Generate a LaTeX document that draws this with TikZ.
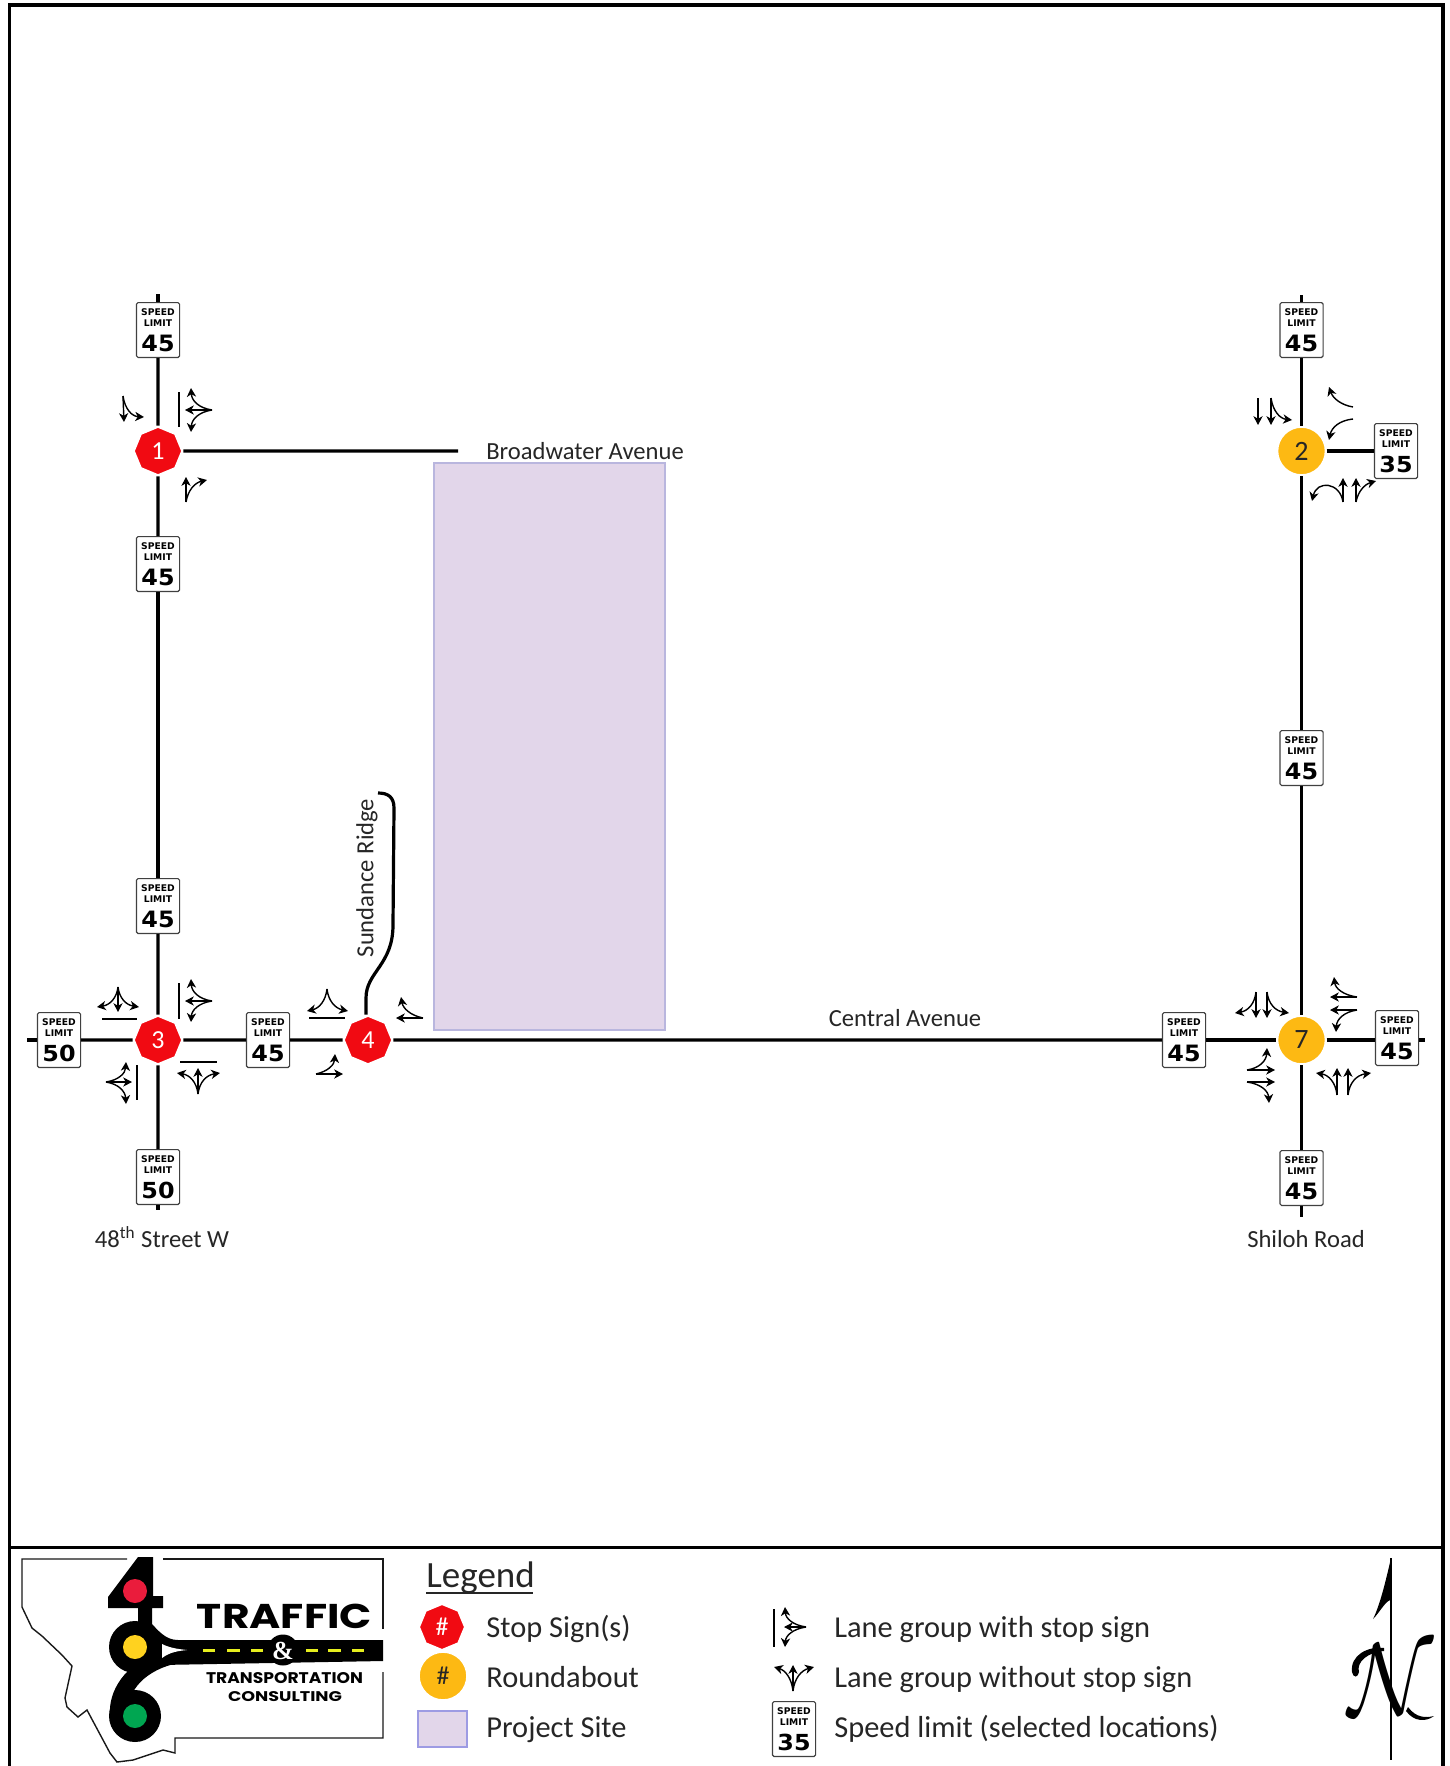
\documentclass[tikz,border=0pt]{standalone}
\usepackage{fontspec}
\setmainfont{Carlito}
\newfontfamily\signfont{DejaVu Sans}
\newfontfamily\logofont{Poppins}
\newfontfamily\ampfont{Liberation Serif}
\usetikzlibrary{arrows.meta,shapes.geometric,calc}
\definecolor{stopred}{HTML}{F10A12}
\definecolor{roundy}{HTML}{FDB913}
\definecolor{sitefill}{HTML}{E2D6EA}
\definecolor{siteline}{HTML}{B9B6DE}
\definecolor{logored}{HTML}{EA1C3C}
\definecolor{logoyellow}{HTML}{FFD21F}
\definecolor{logogreen}{HTML}{00A651}
\definecolor{logodash}{HTML}{E6EE1E}
\tikzset{
  frameline/.style={line width=1.8pt,black},
  road/.style={line width=1.6pt,black},
  lane/.style={line width=.7pt,black,-{Stealth[length=4.4pt,width=4.6pt,inset=1.3pt]}},
  stopbar/.style={line width=.9pt,black},
  stopnode/.style={regular polygon,regular polygon sides=8,shape border rotate=22.5,fill=stopred,draw=white,line width=1pt,minimum size=24.2pt,inner sep=0pt,text=white,font=\fontsize{13}{13}\selectfont},
  roundnode/.style={circle,fill=roundy,draw=white,line width=1pt,minimum size=24.2pt,inner sep=0pt,text=black!85,font=\fontsize{14}{14}\selectfont},
  speedsign/.style={rectangle,rounded corners=.8pt,draw=black!75,line width=.6pt,fill=white,inner sep=0pt,font=\signfont\bfseries\fontsize{4.6}{5}\selectfont},
  roadlabel/.style={font=\fontsize{12.3}{13}\selectfont,text=black!85,inner sep=0pt},
  legendtext/.style={anchor=base west,font=\fontsize{15.2}{16}\selectfont,text=black!85,inner sep=0pt},
  logotext/.style={inner sep=0pt,text=black},
}
\newcommand{\lanec}[3]{\draw[lane] (#1) .. controls ($(#1)!.667!(#2)$) and ($(#3)!.667!(#2)$) .. (#3);}
\newcommand{\lanes}[2]{\draw[lane] (#1) -- (#2);}
\newcommand{\signline}[2]{\hbox to 21.6pt{\hss\rule{0pt}{#1}#2\hss}}
\newcommand{\spd}[3]{\node[speedsign] (#1) at (#2) {\vbox to 27.4pt{\offinterlineskip\signline{6.5pt}{SPEED}\signline{5.5pt}{LIMIT}\signline{12.6pt}{\resizebox{16.6pt}{8.2pt}{#3}}\vss}};}
\begin{document}
\begin{tikzpicture}[x=.5pt,y=-.5pt]
\useasboundingbox (0,0) rectangle (1450,1766);
\fill[white] (0,0) rectangle (1450,1766);
% frame
\draw[frameline] (9.5,1766) -- (9.5,5) -- (1443,5) -- (1443,1766);
\draw[frameline] (9.5,1547.5) -- (1443,1547.5);
% site
\node[draw=siteline,fill=sitefill,line width=.6pt,minimum width=115.5pt,minimum height=283.5pt,inner sep=0pt] (site) at (549.5,746.5) {};
% intersections
\node[stopnode] (n1) at (158,451) {1};
\node[stopnode] (n3) at (158,1040) {3};
\node[stopnode] (n4) at (368,1040) {4};
\node[roundnode] (n2) at (1301.5,451) {2};
\node[roundnode] (n7) at (1301.5,1040) {7};
% speed signs
\spd{sa}{158,330}{45}
\spd{sb}{158,564}{45}
\spd{sc}{158,906}{45}
\spd{sd}{59,1040}{50}
\spd{se}{268,1040}{45}
\spd{sf}{158,1177}{50}
\spd{sg}{1301.5,330}{45}
\spd{sh}{1396,451}{35}
\spd{si}{1301.5,758}{45}
\spd{sj}{1184,1040}{45}
\spd{sk}{1397,1038}{45}
\spd{sl}{1301.5,1178}{45}
% road ends
\coordinate (w1) at (158,294);
\coordinate (w2) at (158,1210);
\coordinate (e1) at (1301.5,295);
\coordinate (e2) at (1301.5,1217);
\coordinate (c1) at (27,1040);
\coordinate (c2) at (1425,1040);
\coordinate (bw) at (458,451);
\coordinate (srend) at (378,793);
\coordinate (skw) at (sk.west |- n7);
\coordinate (ske) at (sk.east |- n7);
% roads
\draw[road] (w1) -- (sa); \draw[road] (sa) -- (n1); \draw[road] (n1) -- (sb); \draw[road] (sb) -- (sc); \draw[road] (sc) -- (n3); \draw[road] (n3) -- (sf); \draw[road] (sf) -- (w2);
\draw[road] (e1) -- (sg); \draw[road] (sg) -- (n2); \draw[road] (n2) -- (si); \draw[road] (si) -- (n7); \draw[road] (n7) -- (sl); \draw[road] (sl) -- (e2);
\draw[road] (n1) -- (bw); \draw[road] (n2) -- (sh);
\draw[road] (c1) -- (sd); \draw[road] (sd) -- (n3); \draw[road] (n3) -- (se); \draw[road] (se) -- (n4); \draw[road] (n4) -- (sj); \draw[road] (sj) -- (n7); \draw[road] (n7) -- (skw); \draw[road] (ske) -- (c2);
\draw[road] (n4.north) ++(-2,0) -- (366,998) .. controls (366,972) and (393,965) .. (393,925) -- (394,808) .. controls (394,797) and (388,793) .. (srend);
% road labels
\node[roadlabel] (lbw) at (585,451) {Broadwater Avenue};
\node[roadlabel] (lca) at (905,1018) {Central Avenue};
\node[roadlabel] (l48) at (162,1237) {48\textsuperscript{th} Street W};
\node[roadlabel] (lsh) at (1306,1239) {Shiloh Road};
\node[roadlabel,rotate=90] (lsr) at (367,878) {Sundance Ridge};
% lane groups - intersection 1
\lanes{123,396}{124,422} \lanec{123,396}{126,416}{144,417}
\draw[stopbar] (179,392) -- (179,427);
\lanec{212,410}{192,407}{191,388} \lanes{212,410}{185,410} \lanec{212,410}{192,413}{191,432}
\lanes{186,502}{186,477} \lanec{186,502}{189,484}{207,480}
% intersection 2
\lanes{1258,398}{1258,425} \lanes{1271,398}{1271,425} \lanec{1271,398}{1274,418}{1292,420}
\lanec{1353,407}{1335,404}{1329,387} \lanec{1353,419}{1333,421}{1329,440}
\lanes{1343,502}{1343,478} \lanes{1356,502}{1356,478}
\draw[lane] (1343,502) .. controls (1340,482) and (1317,480) .. (1312,501);
\lanec{1356,502}{1359,486}{1376,481}
% intersection 3
\draw[stopbar] (102,1019) -- (137,1019);
\lanec{118,987}{116,1004}{97,1007} \lanes{118,987}{118,1012} \lanec{118,987}{120,1004}{139,1007}
\draw[stopbar] (179,983) -- (179,1019);
\lanec{212,1001}{192,998}{191,979} \lanes{212,1001}{185,1001} \lanec{212,1001}{192,1004}{191,1022}
\draw[stopbar] (180,1062) -- (217,1062);
\lanec{198,1094}{196,1076}{177,1073} \lanes{198,1094}{198,1068} \lanec{198,1094}{200,1076}{220,1073}
\draw[stopbar] (137,1065) -- (137,1100);
\lanec{106,1082}{125,1079}{126,1062} \lanes{106,1082}{132,1082} \lanec{106,1082}{125,1085}{126,1104}
% intersection 4
\draw[stopbar] (309,1018) -- (345,1018);
\lanec{327,989}{325,1007}{307,1011} \lanec{327,989}{329,1007}{348,1011}
\lanes{423,1018}{396,1018} \lanec{423,1018}{404,1014}{401,997}
\lanes{316,1074}{343,1074} \lanec{316,1074}{334,1070}{335,1054}
% intersection 7
\lanes{1256,992}{1256,1018} \lanes{1267,992}{1267,1018}
\lanec{1256,992}{1254,1010}{1235,1013} \lanec{1267,992}{1269,1010}{1289,1013}
\lanes{1357,997}{1330,997} \lanes{1357,1010}{1330,1010}
\lanec{1357,997}{1336,994}{1334,977} \lanec{1357,1010}{1337,1013}{1336,1032}
\lanes{1247,1070}{1275,1070} \lanes{1247,1082}{1275,1082}
\lanec{1247,1070}{1266,1067}{1267,1048} \lanec{1247,1082}{1268,1085}{1269,1103}
\lanes{1337,1095}{1337,1068} \lanes{1348,1095}{1348,1068}
\lanec{1337,1095}{1335,1076}{1316,1073} \lanec{1348,1095}{1350,1076}{1371,1073}
% logo
\draw[line width=.7pt,black!90] (163,1559) -- (383,1559) -- (383,1629);
\draw[line width=.7pt,black!90] (383,1672) -- (383,1738) -- (175,1738) -- (175,1753) -- (163,1750) -- (133,1760) -- (117,1762) -- (110,1753) -- (87,1710) -- (78,1717) -- (67,1707) -- (65,1698) -- (72,1666) -- (62,1655) -- (42,1636) -- (32,1628) -- (22,1607) -- (22,1559) -- (127,1559);
\fill[black] (138,1557) -- (153,1557) -- (153,1596) -- (163,1596) -- (163,1608) -- (152,1608) -- (152,1630) -- (138,1630) -- (138,1608) -- (108,1608) -- (108,1597) -- cycle;
\fill[black] (383,1640) -- (178,1640) .. controls (165,1640) and (158,1630) .. (150,1622) -- (140,1640) -- (160,1665) -- (383,1661) -- cycle;
\fill[black] (200,1661) .. controls (160,1661) and (135,1680) .. (130,1700) -- (110,1716) .. controls (108,1690) and (125,1665) .. (160,1650) -- (200,1645) -- cycle;
\fill[black] (135,1647) circle[radius=26];
\fill[black] (135,1716) circle[radius=26];
\fill[white] (162,1644) .. controls (170,1648) and (178,1649) .. (187,1650) .. controls (178,1651) and (170,1652) .. (162,1658) -- cycle;
\fill[logored] (135,1591) circle[radius=12];
\fill[logoyellow] (135,1647) circle[radius=12];
\fill[logogreen] (135,1716) circle[radius=12];
\foreach \a/\b in {203/215,227/240,251/263,306/318,328/341,352/364} \draw[line width=1.5pt,logodash] (\a,1650) -- (\b,1650);
\node[ellipse,fill=black,minimum width=15.5pt,minimum height=15.5pt,inner sep=0pt] (ampbg) at (283,1650) {};
\node[logotext,text=white,font=\ampfont\bfseries\fontsize{13}{13}\selectfont] (amp) at (283,1651) {\&};
\node[logotext] (ltraffic) at (284.5,1616) {\resizebox{87.5pt}{12.2pt}{\logofont\bfseries TRAFFIC}};
\node[logotext] (ltrans) at (284.5,1678.5) {\resizebox{78.5pt}{5.5pt}{\logofont\bfseries TRANSPORTATION}};
\node[logotext] (lcons) at (285,1697) {\resizebox{57pt}{5pt}{\logofont\bfseries CONSULTING}};
% legend
\node[anchor=base west,font=\fontsize{18.5}{19}\selectfont,text=black!85,inner sep=0pt] (lg) at (426,1587) {Legend};
\draw[line width=.8pt,black!85] (426,1593) -- (533,1593);
\node[stopnode,minimum size=23pt,font=\fontsize{13}{13}\selectfont] (ksign) at (442,1627) {\#};
\node[roundnode,font=\fontsize{13}{13}\selectfont] (kround) at (443,1676) {\#};
\node[draw=siteline!85!blue,fill=sitefill,line width=.6pt,minimum width=24.5pt,minimum height=18pt,inner sep=0pt] (ksite) at (442.5,1729) {};
\node[legendtext] (t1) at (486,1637) {Stop Sign(s)};
\node[legendtext] (t2) at (486,1687) {Roundabout};
\node[legendtext] (t3) at (486,1737) {Project Site};
\draw[stopbar] (774,1609) -- (774,1647);
\lanec{806,1627}{786,1624}{785,1607} \lanes{806,1627}{784,1627} \lanec{806,1627}{786,1630}{785,1647}
\lanec{793,1691}{791,1672}{774,1667} \lanes{793,1691}{793,1665} \lanec{793,1691}{795,1672}{814,1667}
\spd{ksp}{794,1729}{35}
\node[legendtext] (t4) at (834,1637) {Lane group with stop sign};
\node[legendtext] (t5) at (834,1687) {Lane group without stop sign};
\node[legendtext] (t6) at (834,1737) {Speed limit (selected locations)};
% north arrow
\coordinate (na) at (1391,1558);
\coordinate (nb) at (1391,1760);
\draw[line width=.8pt,black] (na) -- (nb);
\fill[black] (na) .. controls (1386,1580) and (1380,1605) .. (1373,1619) .. controls (1380,1612) and (1386,1600) .. (1391,1600) -- cycle;
\node[inner sep=0pt,text=black] (nl) at (1391,1679) {\resizebox{42.5pt}{35pt}{$\mathcal{N}$}};
\fill[black] (1384,1648) .. controls (1368,1646) and (1350,1655) .. (1352,1672) .. controls (1353,1678) and (1358,1678) .. (1359,1672) .. controls (1356,1662) and (1368,1652) .. (1384,1651) -- cycle;
\fill[black] (1406,1711) .. controls (1414,1722) and (1426,1722) .. (1434,1716) .. controls (1426,1718) and (1416,1718) .. (1408,1707) -- cycle;
\end{tikzpicture}
\end{document}
